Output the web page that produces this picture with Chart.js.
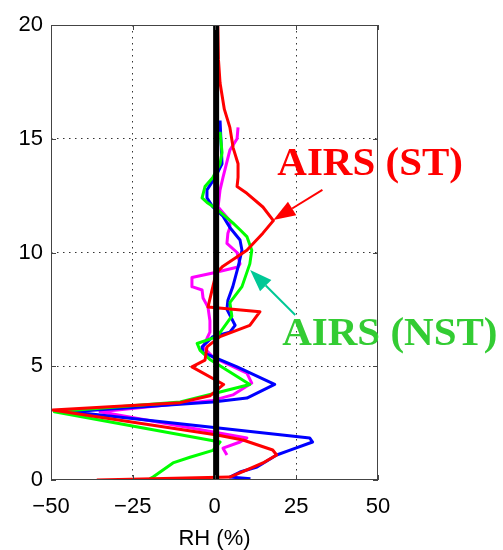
<!DOCTYPE html>
<html>
<head>
<meta charset="utf-8">
<script src="https://cdn.jsdelivr.net/npm/chart.js@4"></script>
<style>
  html, body { margin: 0; padding: 0; background: #fff; }
  #wrap { width: 503px; height: 550px; position: relative; }
</style>
</head>
<body>
<div id="wrap"><canvas id="rh-profile"></canvas></div>
<script>
// tick labels
const xTicks = [-50, -25, 0, 25, 50];
const yTicks = [0, 5, 10, 15, 20];

// AIRS (ST) - red
const stHeight = [20.0, 18.5, 17.45, 16.3, 15.5, 14.6, 13.9, 13.3, 12.9, 12.6, 12.0, 11.4, 10.85, 10.1, 9.4, 9.1, 8.5, 7.6, 7.4, 6.8, 6.3, 5.85, 5.27, 4.97, 4.2, 3.7, 3.4, 3.08, 1.98, 1.76, 1.32, 1.1, 0.75, 0.44, 0.13, 0.0];
const stRH = [1.0, 1.2, 1.7, 3.0, 4.7, 5.7, 7.2, 7.2, 6.9, 9.9, 14.8, 18.0, 14.8, 9.9, 2.6, 0.5, -0.5, -2.0, 13.9, 10.8, 1.7, -2.3, -2.9, -6.9, 2.8, -1.4, -10.5, -49.5, 0.8, 8.7, 17.8, 19.0, 14.8, 9.9, 4.7, -36];

// AIRS (NST) - green
const nstHeight = [15.3, 14.4, 13.9, 13.3, 12.9, 12.4, 12.2, 11.9, 11.3, 11.0, 10.7, 10.1, 9.5, 8.5, 7.8, 7.2, 6.3, 6.0, 5.7, 5.3, 4.2, 3.9, 3.43, 3.0, 1.67, 1.3, 1.0, 0.75, 0.13, 0.05];
const nstRH = [1.7, 2.3, 1.7, -0.5, -2.9, -3.8, -2.3, 0.8, 5.6, 7.8, 9.9, 11.4, 10.8, 8.4, 4.7, 5.3, 0.8, -5.3, -4.4, -1.4, 10.8, 2.6, -10.5, -49, 1.7, -0.5, -7.5, -12.7, -18.8, -19.8];

// blue
const blueHeight = [15.8, 13.9, 13.3, 12.75, 12.4, 12.0, 11.6, 11.1, 10.55, 10.1, 9.36, 8.5, 7.9, 7.5, 6.8, 6.5, 6.3, 5.85, 5.6, 4.97, 4.2, 3.6, 3.43, 3.0, 1.85, 1.67, 1.3, 1.1, 0.57, 0.35, 0.13, 0.05];
const blueRH = [1.7, 2.3, 0.2, -2.3, -2.3, -0.5, 2.6, 4.7, 7.8, 8.4, 7.2, 5.6, 4.1, 3.8, 6.3, 4.7, -0.5, -3.8, -3.5, 6.9, 18.4, 9.9, -0.5, -44, 29.1, 30.0, 22.9, 19.0, 13.0, 7.8, 4.7, 11.0];

// magenta
const magHeight = [15.5, 15.0, 14.5, 13.3, 12.75, 12.0, 11.4, 11.1, 10.85, 10.4, 10.0, 9.5, 9.36, 9.1, 8.9, 8.5, 8.35, 8.0, 7.6, 7.0, 6.5, 5.85, 5.4, 4.7, 4.26, 3.74, 3.5, 3.0, 1.85, 1.67, 1.4, 1.1];
const magRH = [7.2, 6.9, 4.7, 2.6, 1.7, 1.1, 4.7, 4.7, 4.1, 3.8, 6.9, 7.8, 7.2, -0.5, -6.9, -6.9, -3.8, -3.5, -2.0, -1.4, -1.4, -3.5, -0.5, 9.9, 11.4, 5.6, -0.5, -35, 9.9, 7.8, 2.6, 3.8];

// zero reference line
const zeroHeight = [0, 20];
const zeroRH = [0.5, 0.5];

function toPoints(heights, rh) {
    return heights.map((h, i) => ({ x: rh[i], y: h }));
}

function profile(data, color, width) {
    return {
        data: data,
        showLine: true,
        borderColor: color,
        backgroundColor: color,
        borderWidth: width,
        pointRadius: 0,
        tension: 0,
        fill: false,
        borderJoinStyle: "round",
    };
}

// box, inner tick marks and the two labels with arrows
const boxAndNotes = {
    id: "boxAndNotes",
    afterDraw(chart) {
        const ctx = chart.ctx;
        const { left, right, top, bottom } = chart.chartArea;
        const xs = chart.scales.x;
        const ys = chart.scales.y;

        ctx.save();
        ctx.strokeStyle = "#444";
        ctx.lineWidth = 1;
        ctx.strokeRect(left + 0.5, top + 0.5, right - left - 1, bottom - top - 1);
        ctx.beginPath();
        xTicks.forEach((v) => {
            const px = Math.round(xs.getPixelForValue(v)) + 0.5;
            ctx.moveTo(px, bottom);
            ctx.lineTo(px, bottom - 5);
            ctx.moveTo(px, top);
            ctx.lineTo(px, top + 5);
        });
        yTicks.forEach((v) => {
            const py = Math.round(ys.getPixelForValue(v)) + 0.5;
            ctx.moveTo(left, py);
            ctx.lineTo(left + 5, py);
            ctx.moveTo(right, py);
            ctx.lineTo(right - 5, py);
        });
        ctx.stroke();

        const arrow = (x0, y0, x1, y1, color) => {
            const ax = xs.getPixelForValue(x0), ay = ys.getPixelForValue(y0);
            const bx = xs.getPixelForValue(x1), by = ys.getPixelForValue(y1);
            const ang = Math.atan2(by - ay, bx - ax);
            const len = 22, half = 8;
            const baseX = bx - len * Math.cos(ang), baseY = by - len * Math.sin(ang);
            ctx.strokeStyle = color;
            ctx.fillStyle = color;
            ctx.lineWidth = 2;
            ctx.beginPath();
            ctx.moveTo(ax, ay);
            ctx.lineTo(baseX, baseY);
            ctx.stroke();
            ctx.beginPath();
            ctx.moveTo(bx, by);
            ctx.lineTo(baseX + half * Math.sin(ang), baseY - half * Math.cos(ang));
            ctx.lineTo(baseX - half * Math.sin(ang), baseY + half * Math.cos(ang));
            ctx.closePath();
            ctx.fill();
        };

        arrow(33.0, 12.75, 18.0, 11.43, "#ff0000");
        arrow(24.7, 7.25, 10.9, 9.23, "#00c896");

        ctx.font = "bold 41px 'Liberation Serif', 'Times New Roman', serif";
        ctx.textAlign = "left";
        ctx.textBaseline = "alphabetic";
        ctx.fillStyle = "#ff0000";
        ctx.fillText("AIRS (ST)", xs.getPixelForValue(19.2), ys.getPixelForValue(13.4));
        ctx.fillStyle = "#33cc33";
        ctx.fillText("AIRS (NST)", xs.getPixelForValue(20.7), ys.getPixelForValue(5.93));
        ctx.restore();
    },
};

function initializeChart() {
    const canvas = document.getElementById("rh-profile");
    const tickFont = { family: "'Liberation Sans', Arial, sans-serif", size: 22 };
    const dotted = (ctx) => {
        const v = ctx.tick ? ctx.tick.value : null;
        return v === -50 || v === 50 || v === 0 || v === 20 ? "rgba(0,0,0,0)" : "#333";
    };

    const config = {
        type: "scatter",
        data: {
            datasets: [
                profile(toPoints(zeroHeight, zeroRH), "#000000", 6),
                profile(toPoints(stHeight, stRH), "#ff0000", 3),
                profile(toPoints(nstHeight, nstRH), "#00ff00", 3),
                profile(toPoints(blueHeight, blueRH), "#0000ff", 3),
                profile(toPoints(magHeight, magRH), "#ff00ff", 3),
            ],
        },
        options: {
            responsive: true,
            maintainAspectRatio: false,
            animation: false,
            layout: { padding: { left: 0, right: 125, top: 25, bottom: 0 } },
            plugins: {
                legend: { display: false },
                tooltip: { enabled: false },
            },
            scales: {
                x: {
                    type: "linear",
                    min: -50,
                    max: 50,
                    afterBuildTicks: (scale) => {
                        scale.ticks = xTicks.map((v) => ({ value: v }));
                    },
                    afterFit: (scale) => {
                        scale.height = 70;
                    },
                    ticks: {
                        color: "#000",
                        font: tickFont,
                        padding: 14,
                        maxRotation: 0,
                        callback: (v) => (v < 0 ? "\u2212" + Math.abs(v) : String(v)),
                    },
                    grid: { color: dotted, lineWidth: 1, drawTicks: false },
                    border: { display: false, dash: [1.5, 4.5] },
                    title: {
                        display: true,
                        text: "RH (%)",
                        color: "#000",
                        font: tickFont,
                        padding: { top: 0, bottom: -2 },
                    },
                },
                y: {
                    type: "linear",
                    min: 0,
                    max: 20,
                    afterBuildTicks: (scale) => {
                        scale.ticks = yTicks.map((v) => ({ value: v }));
                    },
                    afterFit: (scale) => {
                        scale.width = 51;
                    },
                    ticks: {
                        color: "#000",
                        font: tickFont,
                        padding: 8,
                    },
                    grid: { color: dotted, lineWidth: 1, drawTicks: false },
                    border: { display: false, dash: [1.5, 4.5] },
                },
            },
        },
        plugins: [boxAndNotes],
    };

    canvas.chart = new Chart(canvas, config);
}

document.addEventListener("DOMContentLoaded", initializeChart);
</script>
</body>
</html>
